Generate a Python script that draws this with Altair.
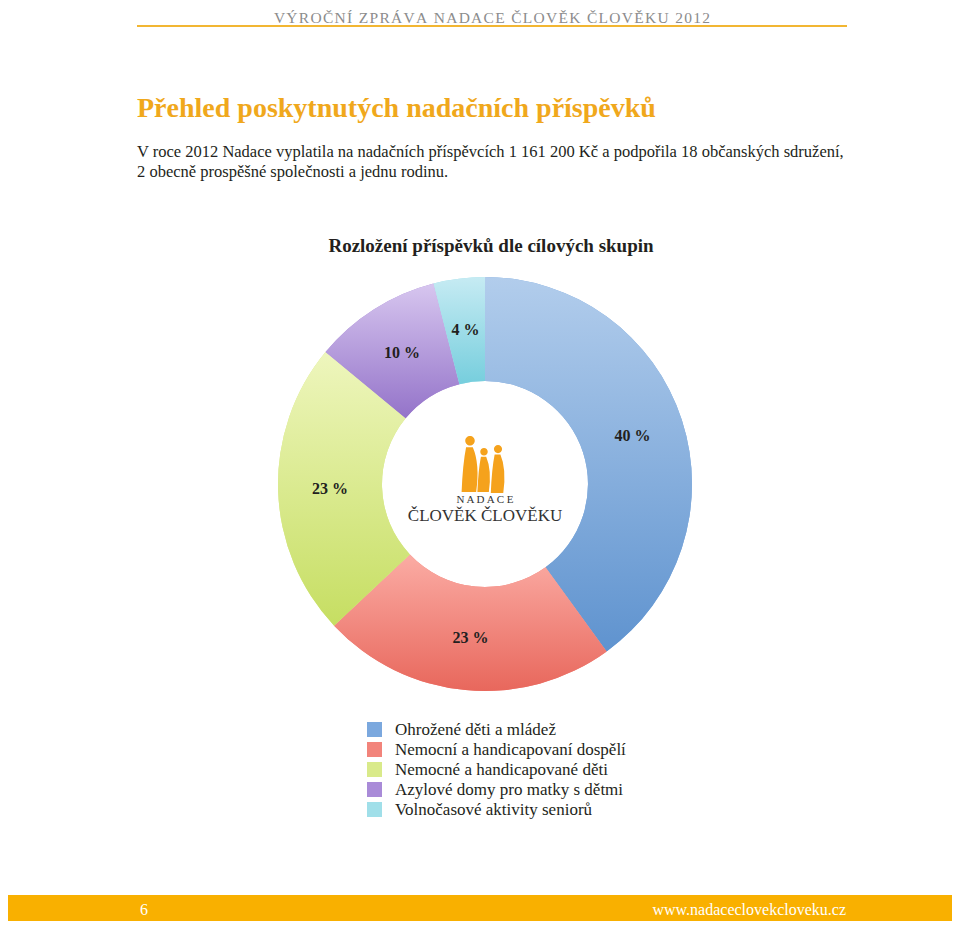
import altair as alt
import pandas as pd

# ---- data ----
categories = [
    "Ohrožené děti a mládež",
    "Nemocní a handicapovaní dospělí",
    "Nemocné a handicapované děti",
    "Azylové domy pro matky s dětmi",
    "Volnočasové aktivity seniorů",
]
values = [40, 23, 23, 10, 4]
labels = ["40 %", "23 %", "23 %", "10 %", "4 %"]
legend_colors = ["#7ba8de", "#f2847b", "#d9ea8a", "#a98bd8", "#a0dfe9"]
top_colors = ["#b2cdec", "#fbaca4", "#eef6bd", "#d7c6ef", "#c6ebf3"]
bottom_colors = ["#5f93cf", "#e8675c", "#c6de62", "#9473c9", "#76cedd"]

df = pd.DataFrame({"cat": categories, "value": values, "label": labels,
                   "idx": list(range(len(values)))})

W, H = 944, 913
CX, CY = 477, 476          # donut centre (chart coords)
R_OUT, R_IN, R_LAB = 207, 103, 155
SERIF = "Liberation Serif"

theta_scale = alt.Scale(domain=[0, sum(values)])

base = (
    alt.Chart(df)
    .transform_window(end="sum(value)", sort=[alt.SortField("idx")], frame=[None, 0])
    .transform_calculate(start="datum.end - datum.value",
                         mid="datum.end - datum.value / 2")
)

# base donut, provides the legend
donut = base.mark_arc(radius=R_OUT, radius2=R_IN).encode(
    theta=alt.Theta("start:Q", stack=None, scale=theta_scale),
    theta2="end:Q",
    color=alt.Color(
        "cat:N",
        scale=alt.Scale(domain=categories, range=legend_colors),
        legend=alt.Legend(
            title=None, orient="none", legendX=358, legendY=713,
            symbolType="square", symbolSize=225, symbolStrokeWidth=0,
            labelFont=SERIF, labelFontSize=17, labelColor="#231f20",
            labelOffset=12, labelLimit=400, rowPadding=2, padding=0,
        ),
    ),
    x=alt.value(CX), y=alt.value(CY),
)

# gradient slices on top
grad_layers = []
for i in range(len(values)):
    grad = alt.LinearGradient(
        gradient="linear", x1=0, y1=0, x2=0, y2=1,
        stops=[alt.GradientStop(offset=0, color=top_colors[i]),
               alt.GradientStop(offset=1, color=bottom_colors[i])],
    )
    grad_layers.append(
        base.transform_filter(f"datum.idx == {i}")
        .mark_arc(radius=R_OUT, radius2=R_IN, fill=grad)
        .encode(theta=alt.Theta("start:Q", stack=None, scale=theta_scale),
                theta2="end:Q", x=alt.value(CX), y=alt.value(CY))
    )

slice_labels = base.mark_text(
    radius=R_LAB, font=SERIF, fontWeight="bold", fontSize=16,
    color="#231f20", baseline="middle", align="center",
).encode(
    theta=alt.Theta("mid:Q", stack=None, scale=theta_scale),
    text="label:N", x=alt.value(CX), y=alt.value(CY),
)

one = pd.DataFrame({"a": [0]})


def txt(s, x, y, **kw):
    return alt.Chart(one).mark_text(text=s, font=SERIF, **kw).encode(
        x=alt.value(x), y=alt.value(y))


HS = "\u200a"
header_text = HS.join("VÝROČNÍ ZPRÁVA NADACE ČLOVĚK ČLOVĚKU 2012")
header = txt(header_text, 484, 15,
             fontSize=15.5, color="#8c8c8c", align="center", baseline="alphabetic")
header_rule = alt.Chart(one).mark_rule(color="#f2b632", strokeWidth=2).encode(
    x=alt.value(129), x2=alt.value(839), y=alt.value(18))
title = txt("Přehled poskytnutých nadačních příspěvků", 129, 109,
            fontSize=28, fontWeight="bold", color="#f0a81c",
            align="left", baseline="alphabetic")
para1 = txt("V roce 2012 Nadace vyplatila na nadačních příspěvcích 1 161 200 Kč a podpořila 18 občanských sdružení,",
            129, 149, fontSize=16.5, color="#231f20", align="left", baseline="alphabetic")
para2 = txt("2 obecně prospěšné společnosti a jednu rodinu.",
            129, 169, fontSize=16.5, color="#231f20", align="left", baseline="alphabetic")
chart_title = txt("Rozložení příspěvků dle cílových skupin", 483, 244,
                  fontSize=19, fontWeight="bold", color="#231f20",
                  align="center", baseline="alphabetic")

# logo in the hole
logo_orange = "#f5a21c"
fig_path = (
    "M0,-1 A0.17,0.17 0 1,1 0,-0.66 A0.17,0.17 0 1,1 0,-1 Z "
    "M-0.14,-0.6 L0.1,-0.6 Q0.36,0 0.22,1 L-0.3,1 Q-0.26,0 -0.14,-0.6 Z"
)
logo_fig = []
figs = [(462, 456, 56 ** 2), (476, 462, 44 ** 2), (490, 461, 48 ** 2)]
for (fx, fy, fs) in figs:
    logo_fig.append(
        alt.Chart(one).mark_point(shape=fig_path, filled=True, opacity=1,
                                  color=logo_orange, size=fs, strokeWidth=0)
        .encode(x=alt.value(fx), y=alt.value(fy))
    )
logo_t1 = txt("N A D A C E", 477, 495, fontSize=11, color="#333333",
              align="center", baseline="alphabetic")
logo_t2 = txt("ČLOVĚK ČLOVĚKU", 477, 513, fontSize=17, color="#333333",
              align="center", baseline="alphabetic")

footer_bar = alt.Chart(one).mark_rect(color="#f9b000").encode(
    x=alt.value(0), x2=alt.value(W), y=alt.value(887), y2=alt.value(H))
footer_l = txt("6", 132, 907, fontSize=16, color="white", align="left",
               baseline="alphabetic")
footer_r = txt("www.nadaceclovekcloveku.cz", 838, 907, fontSize=16,
               color="white", align="right", baseline="alphabetic")

chart = alt.layer(
    donut, *grad_layers, slice_labels,
    header, header_rule, title, para1, para2, chart_title,
    *logo_fig, logo_t1, logo_t2,
    footer_bar, footer_l, footer_r,
).properties(
    width=W, height=H, padding=0, autosize=alt.AutoSizeParams(type="none"),
).configure_view(stroke=None)

chart.save("out.html", embed_options={"renderer": "svg", "actions": False})
